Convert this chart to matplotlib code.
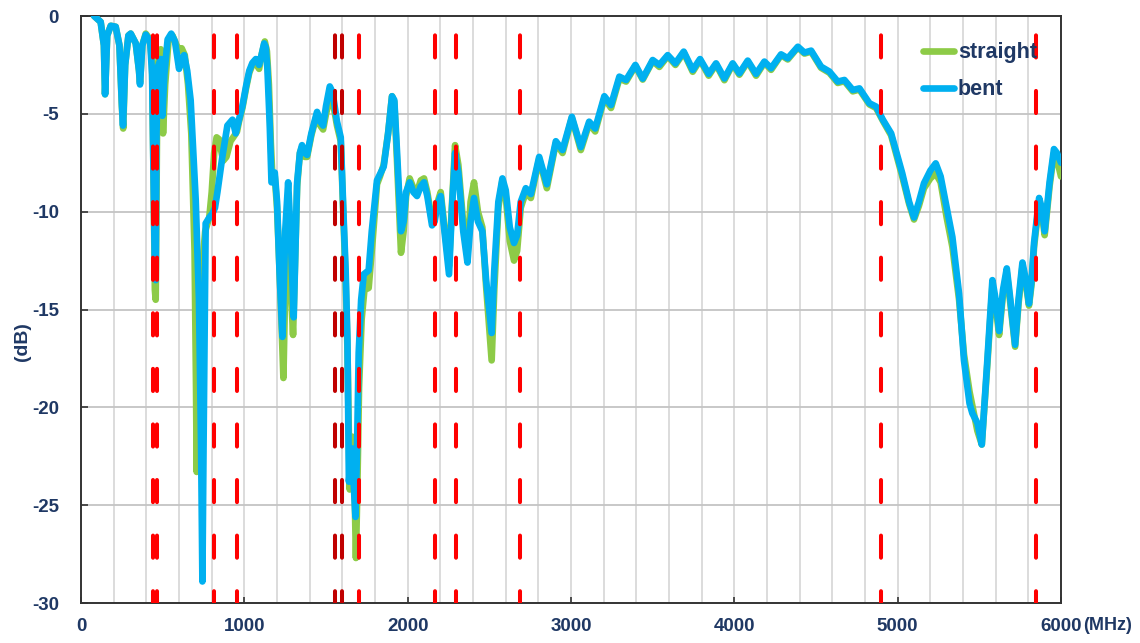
import matplotlib
matplotlib.use('Agg')
import matplotlib.pyplot as plt
from matplotlib.ticker import MultipleLocator

# bent antenna (blue)
bent_mhz = [80, 120, 140, 147, 160, 182, 212, 235, 250, 257, 270, 290, 304, 335, 355, 361, 375, 396,
            423, 435, 445, 452, 457, 462, 470, 488, 498, 510, 530, 552, 575, 600, 615, 631, 650, 671,
            702, 722, 735, 743, 750, 763, 785, 804, 820, 835, 865, 896, 927, 947, 967, 988, 1010,
            1030, 1049, 1070, 1090, 1105, 1121, 1131, 1141, 1155, 1166, 1176, 1186, 1200, 1215, 1233,
            1250, 1268, 1285, 1302, 1315, 1323, 1340, 1353, 1370, 1384, 1410, 1445, 1465, 1482, 1500,
            1523, 1540, 1567, 1590, 1608, 1620, 1631, 1640, 1659, 1670, 1680, 1690, 1700, 1715, 1731,
            1761, 1780, 1812, 1853, 1880, 1904, 1918, 1935, 1959, 1975, 1990, 2012, 2035, 2057, 2080,
            2100, 2120, 2149, 2165, 2180, 2202, 2225, 2253, 2270, 2290, 2310, 2340, 2366, 2385, 2406,
            2430, 2457, 2480, 2514, 2530, 2555, 2580, 2600, 2625, 2651, 2670, 2692, 2723, 2754, 2805,
            2852, 2907, 2948, 3005, 3060, 3111, 3148, 3204, 3245, 3296, 3337, 3394, 3439, 3500, 3541,
            3592, 3639, 3690, 3745, 3790, 3843, 3888, 3939, 3990, 4031, 4082, 4133, 4184, 4225, 4286,
            4327, 4389, 4429, 4470, 4531, 4582, 4633, 4674, 4725, 4766, 4827, 4868, 4909, 4960, 5028,
            5070, 5100, 5130, 5161, 5200, 5233, 5263, 5300, 5335, 5376, 5406, 5440, 5457, 5488, 5515,
            5549, 5580, 5600, 5621, 5645, 5668, 5690, 5719, 5740, 5764, 5785, 5804, 5820, 5835, 5866,
            5882, 5900, 5930, 5957, 5975, 6000]
bent_db = [0.0, -0.3, -1.5, -4.0, -1.0, -0.5, -0.55, -1.5, -4.5, -5.6, -2.5, -1.0, -0.9, -1.4, -2.8,
           -3.5, -1.5, -0.95, -1.3, -3.0, -9.0, -13.0, -13.5, -6.0, -2.6, -2.2, -5.1, -3.0, -1.2, -0.9,
           -1.3, -2.7, -2.2, -2.0, -2.8, -4.3, -9.4, -14.5, -22.0, -28.9, -22.0, -10.6, -10.3, -10.1,
           -9.8, -9.0, -7.2, -5.6, -5.3, -6.0, -5.3, -4.6, -3.6, -2.8, -2.4, -2.2, -2.5, -2.0, -1.4,
           -1.6, -2.7, -5.5, -8.5, -8.4, -8.0, -9.5, -13.0, -16.4, -11.0, -8.5, -11.5, -15.4, -11.0,
           -8.5, -7.0, -6.6, -7.0, -7.1, -6.0, -4.9, -5.4, -5.6, -4.6, -3.6, -3.9, -5.4, -6.2, -10.4,
           -13.0, -16.5, -23.8, -22.1, -24.0, -25.6, -22.0, -17.2, -14.5, -13.2, -13.0, -11.0, -8.4,
           -7.7, -6.0, -4.1, -4.3, -7.0, -11.0, -10.5, -9.0, -8.5, -9.0, -9.2, -8.7, -8.5, -9.2, -10.7,
           -10.5, -9.7, -9.2, -11.0, -13.2, -10.0, -7.0, -8.0, -11.0, -12.6, -10.5, -9.3, -10.5, -11.0,
           -13.5, -16.2, -13.0, -9.5, -8.3, -8.9, -10.8, -11.6, -11.2, -9.5, -8.8, -9.1, -7.2, -8.6,
           -6.4, -6.85, -5.15, -6.7, -5.4, -5.75, -4.1, -4.55, -3.1, -3.27, -2.5, -3.2, -2.25, -2.5,
           -2.0, -2.42, -1.82, -2.76, -2.2, -2.96, -2.42, -3.19, -2.42, -2.93, -2.28, -2.96, -2.33,
           -2.67, -1.96, -2.16, -1.57, -1.87, -1.77, -2.59, -2.84, -3.35, -3.27, -3.78, -3.7, -4.46,
           -4.63, -5.3, -6.0, -8.04, -9.5, -10.3, -9.5, -8.55, -7.9, -7.53, -8.2, -9.8, -11.3, -14.2,
           -17.6, -19.8, -20.3, -20.8, -21.9, -17.6, -13.5, -14.5, -16.1, -14.0, -12.9, -14.5, -16.8,
           -14.5, -12.6, -13.5, -14.7, -13.5, -11.6, -9.3, -9.8, -11.0, -8.5, -6.8, -7.0, -7.5]

# straight antenna (green)
straight_mhz = [80, 120, 140, 147, 160, 182, 212, 235, 250, 258, 270, 290, 304, 335, 355, 361, 375,
                396, 423, 435, 445, 452, 457, 465, 475, 488, 496, 502, 515, 535, 560, 585, 605, 616,
                635, 655, 675, 695, 704, 708, 715, 730, 760, 785, 800, 815, 830, 845, 870, 890, 915,
                940, 955, 967, 988, 1010, 1030, 1049, 1070, 1090, 1105, 1125, 1138, 1150, 1162, 1172,
                1186, 1200, 1220, 1239, 1252, 1265, 1285, 1298, 1312, 1323, 1340, 1353, 1370, 1384,
                1410, 1445, 1465, 1482, 1500, 1523, 1540, 1567, 1590, 1608, 1620, 1631, 1645, 1660,
                1672, 1683, 1692, 1702, 1718, 1735, 1761, 1785, 1812, 1830, 1853, 1880, 1904, 1918,
                1935, 1959, 1975, 1990, 2012, 2035, 2057, 2080, 2100, 2120, 2149, 2165, 2180, 2202,
                2225, 2253, 2270, 2290, 2310, 2340, 2366, 2385, 2406, 2430, 2457, 2480, 2514, 2530,
                2555, 2580, 2600, 2625, 2651, 2670, 2692, 2723, 2754, 2805, 2852, 2907, 2948, 3005,
                3060, 3111, 3148, 3204, 3245, 3296, 3337, 3394, 3439, 3500, 3541, 3592, 3639, 3690,
                3745, 3790, 3843, 3888, 3939, 3990, 4031, 4082, 4133, 4184, 4225, 4286, 4327, 4389,
                4429, 4470, 4531, 4582, 4633, 4674, 4725, 4766, 4827, 4868, 4909, 4960, 5028, 5070,
                5100, 5130, 5161, 5200, 5233, 5263, 5300, 5335, 5376, 5406, 5440, 5457, 5488, 5515,
                5549, 5580, 5600, 5621, 5645, 5668, 5690, 5719, 5740, 5764, 5785, 5804, 5820, 5835,
                5866, 5882, 5900, 5930, 5957, 5975, 6000]
straight_db = [0.0, -0.3, -1.5, -4.0, -1.0, -0.5, -0.55, -1.5, -4.6, -5.75, -2.5, -1.0, -0.9, -1.4,
               -2.8, -3.4, -1.5, -0.9, -1.2, -2.5, -9.0, -14.0, -14.5, -6.0, -2.0, -1.7, -4.0, -6.0,
               -3.5, -1.3, -1.0, -1.5, -1.8, -1.65, -2.0, -3.5, -6.0, -12.0, -19.0, -23.3, -19.0,
               -14.0, -11.0, -10.3, -9.0, -7.0, -6.2, -6.3, -7.4, -7.2, -6.4, -6.1, -5.9, -5.4, -4.7,
               -3.7, -2.9, -2.5, -2.4, -2.7, -2.0, -1.3, -1.8, -3.5, -6.5, -8.3, -8.2, -9.8, -14.0,
               -18.5, -13.0, -11.9, -14.0, -16.3, -12.0, -8.7, -7.0, -6.7, -7.2, -7.2, -6.1, -5.0,
               -5.6, -5.8, -5.0, -4.2, -4.3, -5.6, -6.4, -10.6, -13.5, -17.0, -24.2, -21.5, -23.0,
               -27.7, -24.0, -19.0, -15.5, -14.0, -13.9, -11.5, -8.6, -8.2, -7.6, -6.0, -4.1, -4.4,
               -7.5, -12.1, -11.0, -9.2, -8.3, -8.8, -9.0, -8.4, -8.3, -9.0, -10.5, -10.3, -9.6, -9.0,
               -10.8, -12.8, -9.8, -6.6, -7.6, -10.6, -12.2, -9.5, -8.5, -10.0, -10.8, -13.8, -17.6,
               -14.0, -9.8, -8.4, -9.2, -11.5, -12.5, -12.0, -9.8, -9.0, -9.3, -7.3, -8.8, -6.5, -7.0,
               -5.2, -6.85, -5.5, -5.9, -4.2, -4.7, -3.2, -3.35, -2.55, -3.25, -2.3, -2.6, -2.05,
               -2.5, -1.87, -2.85, -2.25, -3.05, -2.47, -3.28, -2.47, -3.0, -2.33, -3.05, -2.38,
               -2.75, -2.0, -2.22, -1.6, -1.92, -1.82, -2.65, -2.9, -3.42, -3.33, -3.85, -3.76, -4.52,
               -4.7, -5.35, -6.1, -8.2, -9.6, -10.4, -9.7, -8.8, -8.3, -8.04, -8.5, -10.3, -11.8,
               -14.5, -17.3, -19.2, -19.9, -21.2, -21.9, -17.8, -13.8, -14.8, -16.3, -14.2, -13.1,
               -14.7, -16.9, -14.7, -12.8, -13.7, -14.8, -13.7, -11.8, -9.5, -10.0, -11.2, -8.7,
               -7.0, -7.3, -8.2]

# band edges marked with red dashed lines
marker_mhz = [440, 465, 815, 955, 1555, 1595, 1700, 2165, 2295, 2690, 4895, 5845]
marker_dark = [1555, 1595]

x_ticks = [0, 1000, 2000, 3000, 4000, 5000, 6000]
y_ticks = [-30, -25, -20, -15, -10, -5, 0]

NAVY = '#1F3864'
FONT = ['Liberation Sans', 'DejaVu Sans']
plt.rcParams['axes.unicode_minus'] = False

fig = plt.figure(figsize=(11.4, 6.43), dpi=100)
ax = fig.add_axes([0.0711, 0.0622, 0.8596, 0.9129])

ax.plot(straight_mhz, straight_db, color='#8DCB47', lw=4.8, solid_joinstyle='round',
        solid_capstyle='round', zorder=3, label='straight')
ax.plot(bent_mhz, bent_db, color='#00B0F0', lw=4.8, solid_joinstyle='round',
        solid_capstyle='round', zorder=4, label='bent')

for f in marker_mhz:
    col = '#C00000' if f in marker_dark else '#FF0000'
    ax.plot([f, f], [0, -30], color=col, lw=2.9, linestyle=(9, (5.5, 8.3)),
            dash_capstyle='round', zorder=5)

ax.set_xlim(0, 6000)
ax.set_ylim(-30, 0)
ax.set_xticks(x_ticks)
ax.set_yticks(y_ticks)
ax.xaxis.set_minor_locator(MultipleLocator(200))
ax.grid(which='major', axis='y', color='#C4C4C4', lw=1.3, zorder=0)
ax.grid(which='both', axis='x', color='#D6D6D6', lw=1.2, zorder=0)
ax.set_axisbelow(True)

for s in ax.spines.values():
    s.set_color('#333333')
    s.set_linewidth(1.4)

ax.tick_params(axis='x', which='major', direction='in', length=4, width=1.2, color='#333333',
               pad=11, labelsize=13.5, labelcolor=NAVY)
ax.tick_params(axis='x', which='minor', length=0)
ax.tick_params(axis='y', direction='in', length=5, width=1.2, color='#333333',
               pad=16, labelsize=13.5, labelcolor=NAVY)
for lab in ax.get_xticklabels() + ax.get_yticklabels():
    lab.set_fontfamily(FONT)
    lab.set_fontweight('bold')

fig.text(22 / 1140, 1 - 342 / 643, '(dB)', rotation=90, ha='center', va='center',
         color=NAVY, fontsize=14, fontweight='bold', family=FONT)
fig.text(1108 / 1140, 1 - 626 / 643, '(MHz)', ha='center', va='center',
         color=NAVY, fontsize=13, fontweight='bold', family=FONT)

leg = ax.legend(loc='upper right', bbox_to_anchor=(0.984, 0.97), frameon=False,
                handlelength=1.45, handletextpad=0.15, labelspacing=0.75, borderaxespad=0,
                prop={'family': FONT, 'weight': 'bold', 'size': 15.5})
for t in leg.get_texts():
    t.set_color(NAVY)

fig.savefig('out.png', dpi=100)
